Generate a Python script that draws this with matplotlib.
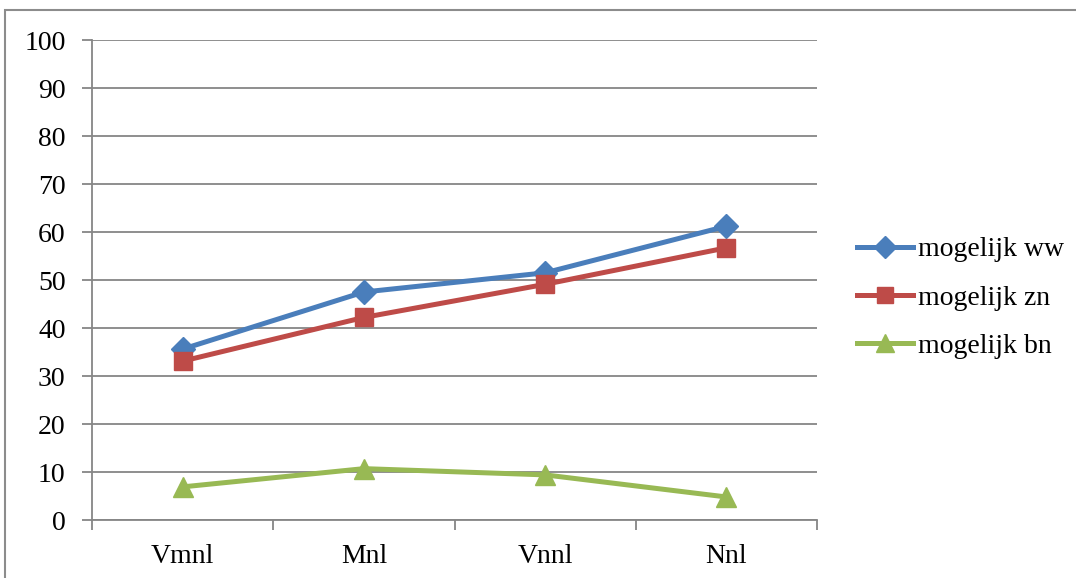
import matplotlib
matplotlib.use('Agg')
from matplotlib import pyplot as plt
from matplotlib.patches import Rectangle
import numpy as np

categories = ['Vmnl', 'Mnl', 'Vnnl', 'Nnl']
ww = [35.6, 47.5, 51.5, 61.2]
zn = [33.1, 42.2, 49.1, 56.7]
bn = [6.9, 10.7, 9.4, 4.8]
yticks = list(range(0, 101, 10))

plt.rcParams['font.family'] = ['Liberation Serif', 'DejaVu Serif']

fig = plt.figure(figsize=(10.76, 5.78), dpi=100)
ax = fig.add_axes([92 / 1076, 1 - 520 / 578, (817 - 92) / 1076, 480 / 578])

# outer chart frame
fig.patches.append(Rectangle((5 / 1076, -0.1), 1.2, 1.1 - 10 / 578,
                             transform=fig.transFigure, fill=False,
                             edgecolor='#8c8c8c', linewidth=1.5))

x = np.arange(len(categories))
ax.plot(x, ww, color='#4a7ebb', lw=3.6, marker='D', ms=12,
        label='mogelijk ww', zorder=3)
ax.plot(x, zn, color='#be4b48', lw=3.6, marker='s', ms=13.5,
        label='mogelijk zn', zorder=3)
ax.plot(x, bn, color='#98b954', lw=3.6, marker='^', ms=15,
        label='mogelijk bn', zorder=3)

ax.set_xlim(-0.5, len(categories) - 0.5)
ax.set_ylim(0, 100)
ax.set_yticks(yticks)
ax.set_xticks(x)
ax.set_xticklabels(categories)
ax.set_xticks(np.arange(-0.5, len(categories)), minor=True)

ax.grid(axis='y', color='#868686', lw=1.3)
ax.set_axisbelow(True)
for side in ['top', 'right']:
    ax.spines[side].set_visible(False)
for side in ['left', 'bottom']:
    ax.spines[side].set_color('#868686')
    ax.spines[side].set_linewidth(1.3)

ax.tick_params(axis='y', length=7, width=1.3, color='#868686',
               labelsize=20, pad=12)
ax.tick_params(axis='x', which='major', length=0, labelsize=20, pad=17)
ax.tick_params(axis='x', which='minor', length=7, width=1.3, color='#868686')

ax.legend(loc='center left', bbox_to_anchor=(1.021, 0.4625), frameon=False,
          fontsize=20, handlelength=2.0, handletextpad=0.2,
          labelspacing=0.82, markerscale=0.9)

fig.savefig('out.png', dpi=100)
